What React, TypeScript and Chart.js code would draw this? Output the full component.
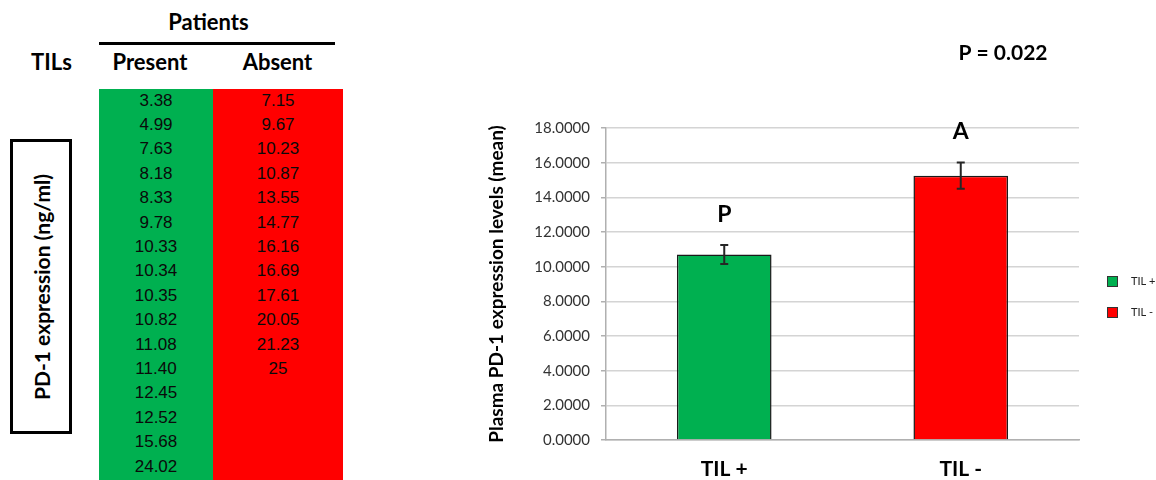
import React, { useEffect, useRef } from "react";
import { Chart, registerables } from "chart.js";

Chart.register(...registerables);

// ---------- Left table data ----------
const tableTitle = "Patients";
const rowHeader = "TILs";
const columnLabels = ["Present", "Absent"];
const presentValues = ["3.38", "4.99", "7.63", "8.18", "8.33", "9.78", "10.33", "10.34", "10.35", "10.82", "11.08", "11.40", "12.45", "12.52", "15.68", "24.02"];
const absentValues = ["7.15", "9.67", "10.23", "10.87", "13.55", "14.77", "16.16", "16.69", "17.61", "20.05", "21.23", "25"];
const sideLabel = "PD-1 expression (ng/ml)";

// ---------- Bar chart data ----------
const categories = ["TIL +", "TIL -"];
const means = [10.7, 15.25];
const errors = [0.55, 0.76];
const groupLetters = ["P", "A"];
const pValueText = "P = 0.022";
const yAxisTitle = "Plasma PD-1 expression levels (mean)";
const yMin = 0;
const yMax = 18;
const yStep = 2;

const GREEN = "#00b050";
const RED = "#ff0000";
const barColors = [GREEN, RED];

const CANVAS_LEFT = 440;
const CANVAS_W = 716;
const CANVAS_H = 480;

const overlayPlugin = {
  id: "overlay",
  afterDatasetsDraw(chart: any) {
    const ctx = chart.ctx as CanvasRenderingContext2D;
    const meta = chart.getDatasetMeta(0);
    const y = chart.scales.y;
    ctx.save();
    meta.data.forEach((bar: any, i: number) => {
      const x = bar.x;
      const top = y.getPixelForValue(means[i] + errors[i]);
      const bot = y.getPixelForValue(means[i] - errors[i]);
      ctx.strokeStyle = "#262626";
      ctx.lineWidth = 2;
      ctx.beginPath();
      ctx.moveTo(x, top);
      ctx.lineTo(x, bot);
      ctx.moveTo(x - 4, top);
      ctx.lineTo(x + 4, top);
      ctx.moveTo(x - 4, bot);
      ctx.lineTo(x + 4, bot);
      ctx.stroke();
      ctx.fillStyle = "#000";
      ctx.font = "bold 23px Lato";
      ctx.textAlign = "center";
      ctx.textBaseline = "alphabetic";
      ctx.fillText(groupLetters[i], x, top - 23);
    });
    // p-value
    ctx.font = "bold 21px Lato";
    ctx.textAlign = "center";
    ctx.textBaseline = "alphabetic";
    ctx.fillStyle = "#000";
    ctx.fillText(pValueText, 1003 - CANVAS_LEFT, 60);
    // legend
    const lx = 1107 - CANVAS_LEFT;
    const ly = [276, 307];
    categories.forEach((c, i) => {
      ctx.fillStyle = barColors[i];
      ctx.fillRect(lx, ly[i], 10, 10);
      ctx.strokeStyle = "#333";
      ctx.lineWidth = 1;
      ctx.strokeRect(lx + 0.5, ly[i] + 0.5, 10, 10);
      ctx.fillStyle = "#222";
      ctx.font = "11px Lato";
      ctx.textAlign = "left";
      ctx.textBaseline = "middle";
      ctx.fillText(c, lx + 24, ly[i] + 5);
    });
    ctx.restore();
  },
};

function BarChart() {
  const ref = useRef<HTMLCanvasElement | null>(null);
  useEffect(() => {
    if (!ref.current) return;
    const chart = new Chart(ref.current, {
      type: "bar",
      data: {
        labels: categories,
        datasets: [
          {
            data: means,
            backgroundColor: barColors,
            borderColor: "#1a1a1a",
            borderWidth: 1.5,
            barPercentage: 0.4,
            categoryPercentage: 1,
          },
        ],
      },
      options: {
        animation: false,
        responsive: false,
        devicePixelRatio: 1,
        layout: { padding: { left: 0, right: 77, top: 128, bottom: 0 } },
        plugins: {
          legend: { display: false },
          tooltip: { enabled: false },
          title: { display: false },
        },
        scales: {
          x: {
            grid: { display: false, drawTicks: false },
            border: { display: true, color: "#b0b0b0", width: 1.5 },
            ticks: {
              color: "#000",
              font: { family: "Lato", size: 21, weight: "bold" },
              padding: 17,
            },
            afterFit: (s: any) => {
              s.height = 40;
            },
          },
          y: {
            min: yMin,
            max: yMax,
            grid: { color: "#d4d4d4", lineWidth: 1.5, tickLength: 5, tickColor: "#b0b0b0" },
            border: { display: true, color: "#b0b0b0", width: 1.5 },
            ticks: {
              stepSize: yStep,
              color: "#333",
              font: { family: "Lato", size: 15 },
              padding: 11,
              callback: (v: any) => Number(v).toFixed(4),
            },
            title: {
              display: true,
              text: yAxisTitle,
              color: "#000",
              font: { family: "Lato", size: 19, weight: "bold" },
              padding: { top: 45, bottom: 0 },
            },
            afterFit: (s: any) => {
              s.width = 166;
            },
          },
        },
      },
      plugins: [overlayPlugin],
    });
    return () => chart.destroy();
  }, []);
  return (
    <canvas
      ref={ref}
      width={CANVAS_W}
      height={CANVAS_H}
      style={{ position: "absolute", left: CANVAS_LEFT, top: 0, width: CANVAS_W, height: CANVAS_H }}
    />
  );
}

function Cell({ text, cx, cy }: { text: string; cx: number; cy: number }) {
  return (
    <div
      style={{
        position: "absolute",
        left: cx - 40,
        top: cy - 12,
        width: 80,
        height: 24,
        lineHeight: "24px",
        textAlign: "center",
        fontFamily: "'Liberation Sans', Arial, sans-serif",
        fontSize: 17,
        color: "#0a0a0a",
      }}
    >
      {text}
    </div>
  );
}

function Header({ text, cx, cy, size }: { text: string; cx: number; cy: number; size: number }) {
  return (
    <div
      style={{
        position: "absolute",
        left: cx - 80,
        top: cy - 15,
        width: 160,
        height: 30,
        lineHeight: "30px",
        textAlign: "center",
        fontFamily: "Lato",
        fontWeight: 700,
        fontSize: size,
        color: "#000",
      }}
    >
      {text}
    </div>
  );
}

export default function App() {
  const rowStart = 100.5;
  const rowStep = 24.4;
  return (
    <div
      style={{
        position: "absolute",
        left: 0,
        top: 0,
        width: 1156,
        height: 480,
        background: "#fff",
        overflow: "hidden",
      }}
    >
      <Header text={tableTitle} cx={208.5} cy={22} size={22} />
      <div style={{ position: "absolute", left: 99, top: 42, width: 236, height: 3, background: "#000" }} />
      <Header text={rowHeader} cx={51.5} cy={61.5} size={22} />
      <Header text={columnLabels[0]} cx={150} cy={61.5} size={22} />
      <Header text={columnLabels[1]} cx={277.5} cy={61.5} size={22} />
      <div style={{ position: "absolute", left: 99, top: 89, width: 114, height: 391, background: GREEN }} />
      <div style={{ position: "absolute", left: 213, top: 89, width: 130, height: 391, background: RED }} />
      {presentValues.map((v, i) => (
        <Cell key={"p" + i} text={v} cx={156} cy={rowStart + i * rowStep} />
      ))}
      {absentValues.map((v, i) => (
        <Cell key={"a" + i} text={v} cx={278} cy={rowStart + i * rowStep} />
      ))}
      <div
        style={{
          position: "absolute",
          left: 10,
          top: 139,
          width: 62,
          height: 295,
          border: "3px solid #000",
          boxSizing: "border-box",
        }}
      >
        <div
          style={{
            position: "absolute",
            left: "50%",
            top: "50%",
            transform: "translate(-50%, -50%) rotate(-90deg)",
            whiteSpace: "nowrap",
            fontFamily: "Lato",
            fontWeight: 700,
            fontSize: 21,
            color: "#000",
          }}
        >
          {sideLabel}
        </div>
      </div>
      <BarChart />
    </div>
  );
}
